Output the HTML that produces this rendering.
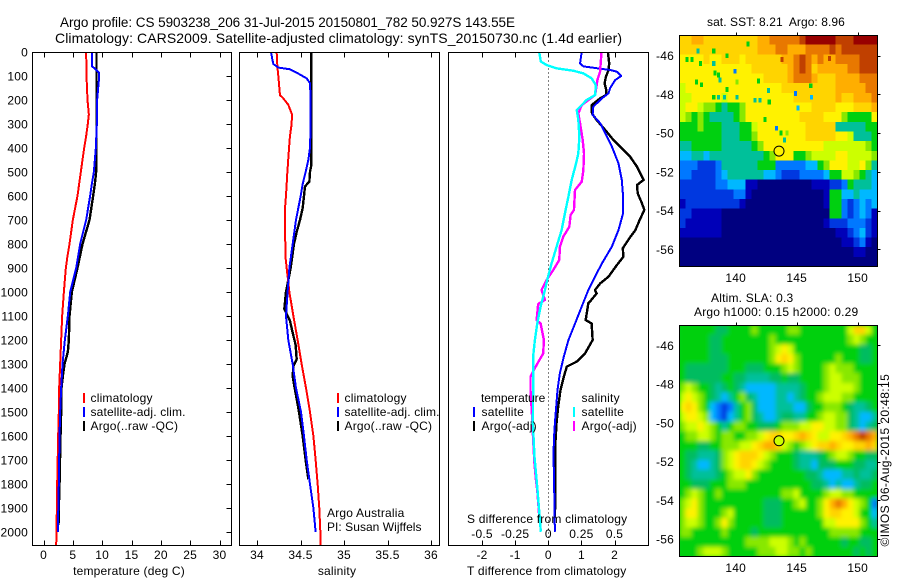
<!DOCTYPE html>
<html lang="en">
<head>
<meta charset="utf-8">
<title>Argo profile</title>
<style>
html,body{margin:0;padding:0;background:#fff;}
#chart{display:block;width:900px;height:580px;}
text{font-family:"Liberation Sans",sans-serif;font-size:12px;fill:#000;letter-spacing:0.2px;white-space:pre;}
</style>
</head>
<body>
<svg id="chart" xmlns="http://www.w3.org/2000/svg" width="900" height="580" viewBox="0 0 900 580">
<defs>
<clipPath id="clip-sst"><rect x="679.5" y="35" width="198" height="232"/></clipPath>
<clipPath id="clip-sla"><rect x="679.5" y="325" width="198" height="232"/></clipPath>
<filter id="smooth" x="-5%" y="-5%" width="110%" height="110%"><feGaussianBlur stdDeviation="2"/></filter>
</defs>
<rect width="900" height="580" fill="#fff"/>
<text x="60" y="27" style="font-size:13.5px;letter-spacing:0" textLength="455" lengthAdjust="spacing">Argo profile: CS 5903238_206 31-Jul-2015 20150801_782 50.927S 143.55E</text>
<text x="55" y="43" style="font-size:14px;letter-spacing:0" textLength="567" lengthAdjust="spacing">Climatology: CARS2009. Satellite-adjusted climatology: synTS_20150730.nc (1.4d earlier)</text>
<g id="layer-sst"></g>
<g id="layer-sla"></g>
<g id="layer-plots"></g>

<g>
<rect x="83" y="393" width="2" height="10" fill="#f00"/>
<rect x="83" y="407" width="2" height="10" fill="#00f"/>
<rect x="83" y="421" width="2" height="10" fill="#000"/>
<text x="90.5" y="402">climatology</text>
<text x="90.5" y="416" textLength="95.2" lengthAdjust="spacing">satellite-adj. clim.</text>
<text x="90.5" y="430">Argo(..raw -QC)</text>
</g>
<g>
<rect x="337" y="393" width="2" height="10" fill="#f00"/>
<rect x="337" y="407" width="2" height="10" fill="#00f"/>
<rect x="337" y="421" width="2" height="10" fill="#000"/>
<text x="344.5" y="402">climatology</text>
<text x="344.5" y="416" textLength="95.2" lengthAdjust="spacing">satellite-adj. clim.</text>
<text x="344.5" y="430">Argo(..raw -QC)</text>
<text x="327" y="517">Argo Australia</text>
<text x="327" y="531" textLength="94.7" lengthAdjust="spacing">PI: Susan Wijffels</text>
</g>
<g>
<text x="481" y="402" textLength="64.5" lengthAdjust="spacing">temperature</text>
<rect x="473" y="407" width="2" height="10" fill="#00f"/>
<rect x="473" y="421" width="2" height="10" fill="#000"/>
<text x="481.5" y="416">satellite</text>
<text x="481.5" y="430">Argo(-adj)</text>
<text x="581.5" y="402">salinity</text>
<rect x="573" y="407" width="2" height="10" fill="#0ff"/>
<rect x="573" y="421" width="2" height="10" fill="#f0f"/>
<text x="581.5" y="416">satellite</text>
<text x="581.5" y="430">Argo(-adj)</text>
</g>
<text x="707" y="26" textLength="138" lengthAdjust="spacing">sat. SST: 8.21  Argo: 8.96</text>
<text x="711" y="302">Altim. SLA: 0.3</text>
<text x="694" y="316">Argo h1000: 0.15 h2000: 0.29</text>
<text transform="translate(889 546.5) rotate(-90)" textLength="172.5" lengthAdjust="spacing">©IMOS 06-Aug-2015 20:48:15</text>
</svg>
<script>
/* ---------- profile data (depth in dbar, values in axis units) ---------- */
const depthTicks = [0,100,200,300,400,500,600,700,800,900,1000,1100,1200,1300,1400,1500,1600,1700,1800,1900,2000];
const tempTicks = [0,5,10,15,20,25,30];
const salTicks = [34,34.5,35,35.5,36];
const salTickLabels = ['34','34.5','35','35.5','36'];
const tDiffTicks = [-2,-1,0,1,2];
const sDiffTicks = [-0.5,-0.25,0,0.25,0.5];
const sDiffTickLabels = ['-0.5','-0.25','0','0.25','0.5'];

const tempClimDepth = [0,100,200,260,300,350,400,500,600,700,800,850,900,1000,1100,1200,1300,1400,1500,1600,1800,2000,2055];
const tempClimValue = [7.27,7.33,7.50,7.73,7.55,7.27,6.93,6.36,5.79,5.00,4.43,4.09,3.81,3.47,3.18,3.01,2.84,2.67,2.61,2.50,2.33,2.22,2.16];
const tempSatDepth = [0,60,70,85,120,200,300,400,500,550,600,700,800,900,1000,1100,1200,1300,1400,1500,1600,1800,2000];
const tempSatValue = [8.24,8.29,8.80,9.43,9.43,9.14,9.09,8.92,8.58,8.24,7.95,7.27,6.25,5.57,4.55,4.15,3.64,3.24,3.01,2.84,2.73,2.61,2.44];
const tempArgoDepth = [0,100,200,300,400,500,540,600,700,800,900,1000,1100,1200,1250,1300,1350,1400,1500,1600,1800,1900,1970];
const tempArgoValue = [9.03,9.03,9.09,9.03,9.03,8.97,8.80,8.46,7.84,6.65,5.79,4.83,4.43,4.32,4.15,3.58,3.30,3.07,3.01,2.90,2.73,2.61,2.56];

const salClimDepth = [0,60,100,180,190,220,260,300,350,400,500,600,650,850,900,1000,1100,1200,1300,1400,1500,1600,1700,1800,1900,2000,2055];
const salClimValue = [34.226,34.234,34.245,34.264,34.295,34.36,34.402,34.398,34.379,34.368,34.349,34.333,34.322,34.326,34.341,34.372,34.418,34.467,34.513,34.563,34.609,34.648,34.674,34.697,34.716,34.728,34.732];
const salSatDepth = [0,30,50,65,72,90,110,130,200,300,400,450,500,550,600,700,800,900,1000,1100,1200,1300,1400,1500,1600,1700,1800,1900,2000];
const salSatValue = [34.161,34.176,34.188,34.245,34.379,34.475,34.571,34.609,34.617,34.617,34.609,34.59,34.559,34.525,34.502,34.448,34.41,34.372,34.352,34.333,34.36,34.41,34.448,34.506,34.54,34.571,34.609,34.648,34.674];
const salArgoDepth = [0,470,500,540,560,600,650,700,750,800,900,1000,1070,1120,1170,1220,1280,1310,1350,1400,1500,1600,1700,1780];
const salArgoValue = [34.625,34.625,34.609,34.602,34.552,34.54,34.525,34.494,34.456,34.425,34.387,34.333,34.314,34.379,34.41,34.444,34.456,34.418,34.41,34.433,34.483,34.525,34.559,34.59];

const tDiffSatDepth = [0,47,60,75,82,100,117,150,172,193,228,262,297,339,394,464,533,603,672,742,811,881,950,992,1061,1131,1200,1269,1339,1408,1478,1547,1617,1686,1825,1999];
const tDiffSatValue = [1.01,0.96,1.06,1.87,2.07,2.20,2.02,1.87,1.82,1.62,1.36,1.34,1.57,1.72,1.92,2.12,2.22,2.26,2.26,2.12,1.92,1.62,1.36,1.21,1.01,0.81,0.61,0.47,0.35,0.28,0.24,0.20,0.17,0.16,0.18,0.20];
const tDiffArgoDepth = [0,47,75,103,131,158,179,193,221,256,283,325,367,401,436,478,533,554,589,631,658,700,742,776,818,853,888,936,964,992,1006,1040,1047,1117,1131,1200,1256,1290,1311,1353,1408,1478,1547,1617,1686,1825,1936];
const tDiffArgoValue = [1.80,1.84,1.82,1.74,1.70,1.75,1.75,1.57,1.31,1.32,1.46,1.72,1.97,2.22,2.47,2.68,2.88,2.68,2.70,2.83,2.90,2.76,2.63,2.45,2.25,2.27,2.07,1.82,1.57,1.41,1.46,1.26,1.21,1.13,1.31,1.34,1.11,0.86,0.56,0.47,0.37,0.30,0.25,0.22,0.22,0.22,0.20];
const sDiffSatDepth = [0,40,54,68,78,89,110,138,179,200,242,283,353,422,464,533,603,672,742,811,881,950,992,1061,1131,1200,1269,1408,1547,1686,1825,1999];
const sDiffSatValue = [-0.068,-0.056,-0.013,0.063,0.189,0.265,0.328,0.359,0.354,0.29,0.215,0.227,0.235,0.227,0.21,0.177,0.152,0.126,0.101,0.063,0.025,-0.008,-0.025,-0.058,-0.083,-0.101,-0.114,-0.114,-0.116,-0.104,-0.081,-0.056];
const sDiffArgoDepth = [0,82,117,179,221,256,297,367,422,492,540,575,658,679,728,769,811,867,908,950,992,1033,1050,1117,1131,1200,1256,1304,1353,1408,1547,1617,1714,1783,1825,1936];
const sDiffArgoValue = [0.402,0.391,0.371,0.354,0.253,0.227,0.24,0.26,0.27,0.265,0.253,0.202,0.194,0.169,0.159,0.114,0.088,0.083,0.038,-0.013,-0.051,-0.025,-0.076,-0.088,-0.058,-0.033,-0.038,-0.088,-0.134,-0.134,-0.119,-0.114,-0.104,-0.093,-0.083,-0.068];

/* ---------- map data: each letter is a colour level, rows run north to south ---------- */
const lonTicks = [140,145,150];
const latTicks = [-46,-48,-50,-52,-54,-56];
const sstLevels = [
"kkllkkkkkkkkkllmmmmmnooooonnnoooo",
"kkkkkkkkkkkkklllmmlllmmmmnmnnnnnn",
"jjjjkjjkkkjkkkkkkllmnmlmllmmmmnnn",
"jjjjjjjjjjjjkkkkkklmnmklllllmmnnn",
"jjjjjjjjjjjjjjkkkklmmmlkkkllllmmm",
"ijjjjjjjjjjjjjjjjkkkkkkkkklllllmm",
"iijjjjjijjjjjjjjjjjkkkkkkklkklllm",
"ijjihhgfgghjjjjjjjjjjjkkkkjjjkkkl",
"ihghgffffghjjjjjjjjjkkkkjjjhggggj",
"ggghgggfffggijjjjjjjjkkkkkfffffgg",
"gggggggfffgghjjjjjjjjkkkkkjjifffg",
"ffgggggfffffghjjjjjjjjjjiiiiiiihg",
"eeffefffffffffghjjjgghiiiijjiiiih",
"dddcccdffffffgggdddddeeghjjjiijhf",
"ddccccdeffffffeedcccddddeggiihgfe",
"ccccccddeeebbaaaaaaaaabbbccdgfffe",
"cccccccccddbaaaaaaaaaaaabggeefeee",
"bcccccccccbaaaaaaaaaaaaabggdcdede",
"ccbbbbbaaaaaaaaaaaaaaaaaaggdcdedb",
"cbbbbbbaaaaaaaaaaaaaaaaabcccdddcb",
"bbbbbbbaaaaaaaaaaaaaaaaaaabbcdecb",
"aaaaaaaaaaaaaaaaaaaaaaaaaaabbcdba",
"aaaaaaaaaaaaaaaaaaaaaaaaaaaaabbaa",
"aaaaaaaaaaaaaaaaaaaaaaaaaaaaaaaaa"
];
const sstSpeckLon = [141,136.9,138.2,139.3,136,136.4,137.1,138.2,139.95,138.3,138.6,137.2,136.8,138.7,141.85,140.1,139.3,142.7,144.9,139.1,138.6,140.1,141.6,142,142.75,146.2,145.1,138.2,142.4,143.35,144.2,143.7,144,146.15,143.8,147.7];
const sstSpeckLat = [-45.4,-45.75,-45.75,-46,-46.2,-46.2,-46.4,-46.4,-46.8,-46.9,-47,-47.5,-47.35,-47.25,-47.3,-47.35,-47.75,-47.8,-47.95,-48.15,-48.15,-48.15,-48.3,-48.3,-48.4,-48.15,-48.7,-48.15,-49.3,-49.75,-50,-50,-50.35,-47.55,-46.2,-46.15];
const sstSpeckLevel = "gfgggggfdggggfghgfdfffffgeeggdhgfgnn";
const slaLevels = [
"ggggggppgggghggggghhggggggggikkig",
"gggggppgggggggghgggggggggggghihgg",
"gggggppgggggggghijigggggggggggppg",
"gggggpppggggggghjkjhgggggghgggppg",
"gpppppppgggpppggghihgggghihhhgggg",
"gppppppggppffffppgppgggghiihhhggg",
"hihggpfpgpfeeeeeffffpggghiiiihggg",
"ijihgpfefghpfeeeffefpgghiiihhgggg",
"jkjhgedcdfghpeeefffeepgghhhgpffpg",
"ijjihedcefghpfeefppffgghiihhpfeef",
"hiijihgfghhggpppghhhiijjiihhpfefp",
"ghhiihghhgghhijkkjjklkjiijjklmnml",
"gggppgghhhiijkllkihghijkklkjjkklk",
"gppfffphijkkkjihgggpfffpghiihggpp",
"gpfeefphijkkjihggggpffepppgggppff",
"gpffffpghiijhggggggggppfeeeffpffp",
"ggpppggghhhgggggggggggppfefeefppg",
"ghihgghgggggggggghhigggghiihhgggg",
"hijhggggggggggpppgghigghjlmljihgd",
"hjjhggghigggggpppgggggghjkkjjigge",
"hiihgghjhgggggpppgggggggiijjjjhgf",
"hhggggghggggpgggggggggggghhhhhggg",
"ggggggggggghhhhiiihghggggggpggppg",
"ggghiiihggggghhhiihhghgggggggpgpg"
];
const argoLon = 143.55;
const argoLat = -50.927;

/* ---------- appearance ---------- */
const levelColors = {a:'#000080',b:'#0000b8',c:'#0038e0',d:'#0078ff',e:'#00b8ff',f:'#00c09a',p:'#00bc60',g:'#00d010',h:'#88e800',i:'#ccff00',j:'#fff200',k:'#ffd400',l:'#ffae00',m:'#e87800',n:'#c04000',o:'#980000'};
const SVGNS = 'http://www.w3.org/2000/svg';
function mk(parent, tag, attrs, name){
  const el = document.createElementNS(SVGNS, tag);
  for (const k in attrs) el.setAttribute(k, attrs[k]);
  
  
  parent.appendChild(el);
  return el;
}
function linear(d0, d1, r0, r1){ return v => r0 + (v - d0) * (r1 - r0) / (d1 - d0); }

/* ---------- profile axes ---------- */
const plots = document.getElementById('layer-plots');
const plotTop = 52.5, plotBottom = 545.5;
const depthY = linear(0, 2000, 52, 532);
const tempX = linear(0, 30, 43.5, 219.5);
const salX = linear(34, 36, 257, 431);
const tDiffX = linear(-2, 2, 482, 614.5);
const sDiffX = linear(-0.5, 0.5, 482, 614.5);

function frame(parent, x0, x1, name){
  mk(parent, 'rect', {x:x0, y:plotTop, width:x1-x0, height:plotBottom-plotTop, fill:'none', stroke:'#000', 'stroke-width':1, 'shape-rendering':'crispEdges'}, name + '-frame');
}
function xTick(parent, x, y0, y1, name){
  mk(parent, 'line', {x1:x, x2:x, y1:y0, y2:y1, stroke:'#000', 'stroke-width':1, 'shape-rendering':'crispEdges'}, name);
}
function label(parent, x, y, str, anchor, name){
  const t = mk(parent, 'text', {x:x, y:y, 'text-anchor':anchor}, name);
  t.textContent = str;
  return t;
}
function series(parent, xFn, depths, values, color, width, name){
  const pts = depths.map((d, i) => xFn(values[i]).toFixed(2) + ',' + depthY(d).toFixed(2)).join(' ');
  mk(parent, 'polyline', {points:pts, fill:'none', stroke:color, 'stroke-width':width, 'stroke-linejoin':'round', 'shape-rendering':'crispEdges'}, name);
}

/* temperature panel */
const tempPanel = mk(plots, 'g', {}, 'temperature-panel');
depthTicks.forEach(d => {
  const y = Math.round(depthY(d)) + 0.5;
  mk(tempPanel, 'line', {x1:226.5, x2:231.5, y1:y, y2:y, stroke:'#000', 'stroke-width':1, 'shape-rendering':'crispEdges'}, 'depth-tick');
  label(tempPanel, 28, depthY(d) + 4.5, String(d), 'end', 'depth-tick-label');
});
tempTicks.forEach(v => {
  const x = Math.round(tempX(v)) + 0.5;
  xTick(tempPanel, x, plotTop, plotTop + 5, 'temperature-top-tick');
  xTick(tempPanel, x, plotBottom - 5, plotBottom, 'temperature-bottom-tick');
  label(tempPanel, tempX(v), 559, String(v), 'middle', 'temperature-tick-label');
});
series(tempPanel, tempX, tempArgoDepth, tempArgoValue, '#000', 2.4, 'temperature-argo-line');
series(tempPanel, tempX, tempClimDepth, tempClimValue, '#f00', 2, 'temperature-climatology-line');
series(tempPanel, tempX, tempSatDepth, tempSatValue, '#00f', 2, 'temperature-satellite-line');
frame(tempPanel, 32.5, 231.5, 'temperature-panel');
label(tempPanel, 129, 575, 'temperature (deg C)', 'middle', 'temperature-axis-title');

/* salinity panel */
const salPanel = mk(plots, 'g', {}, 'salinity-panel');
salTicks.forEach((v, i) => {
  const x = Math.round(salX(v)) + 0.5;
  xTick(salPanel, x, plotTop, plotTop + 5, 'salinity-top-tick');
  xTick(salPanel, x, plotBottom - 5, plotBottom, 'salinity-bottom-tick');
  label(salPanel, salX(v), 559, salTickLabels[i], 'middle', 'salinity-tick-label');
});
series(salPanel, salX, salArgoDepth, salArgoValue, '#000', 2.4, 'salinity-argo-line');
series(salPanel, salX, salClimDepth, salClimValue, '#f00', 2, 'salinity-climatology-line');
series(salPanel, salX, salSatDepth, salSatValue, '#00f', 2, 'salinity-satellite-line');
frame(salPanel, 239.5, 439.5, 'salinity-panel');
label(salPanel, 337, 575, 'salinity', 'middle', 'salinity-axis-title');

/* difference panel */
const diffPanel = mk(plots, 'g', {}, 'difference-panel');
mk(diffPanel, 'line', {x1:548.5, x2:548.5, y1:plotTop, y2:plotBottom, stroke:'#000', 'stroke-width':1, 'stroke-dasharray':'1 3', 'shape-rendering':'crispEdges'}, 'zero-difference-line');
tDiffTicks.forEach(v => {
  const x = Math.round(tDiffX(v)) + 0.5;
  xTick(diffPanel, x, plotTop, plotTop + 5, 'difference-top-tick');
  xTick(diffPanel, x, plotBottom - 5, plotBottom, 'difference-bottom-tick');
  label(diffPanel, tDiffX(v), 559, String(v), 'middle', 't-difference-tick-label');
});
sDiffTicks.forEach((v, i) => {
  label(diffPanel, sDiffX(v), 538, sDiffTickLabels[i], 'middle', 's-difference-tick-label');
});
series(diffPanel, tDiffX, tDiffArgoDepth, tDiffArgoValue, '#000', 2.4, 't-difference-argo-line');
series(diffPanel, tDiffX, tDiffSatDepth, tDiffSatValue, '#00f', 2, 't-difference-satellite-line');
series(diffPanel, sDiffX, sDiffArgoDepth, sDiffArgoValue, '#f0f', 2.4, 's-difference-argo-line');
series(diffPanel, sDiffX, sDiffSatDepth, sDiffSatValue, '#0ff', 2.4, 's-difference-satellite-line');
frame(diffPanel, 448.5, 648.5, 'difference-panel');
label(diffPanel, 467, 523, 'S difference from climatology', 'start', 's-difference-axis-title');
label(diffPanel, 467, 575, 'T difference from climatology', 'start', 't-difference-axis-title');

/* ---------- maps ---------- */
const lonX = linear(140, 150, 735.7, 857.7);
const lonMin = 135.38, lonMax = 151.64;

function drawMap(layer, clipId, rows, topPx, bottomPx, latAnchorPx, tickLabelY, cellName, smooth, markerFill, specks){
  const latY = linear(-46, -56, latAnchorPx, latAnchorPx + 193.6);
  const latMax = -46 + (latAnchorPx - topPx) / 19.36;
  const latMin = -46 - (bottomPx - latAnchorPx) / 19.36;
  const clip = mk(layer, 'g', {'clip-path':'url(#' + clipId + ')'}, cellName + '-clip-area');
  mk(clip, 'rect', {x:lonX(lonMin), y:topPx, width:lonX(lonMax)-lonX(lonMin), height:bottomPx-topPx, fill:levelColors.g}, cellName + '-base');
  const holder = mk(clip, 'g', smooth ? {filter:'url(#smooth)'} : {}, cellName + '-grid');
  const dLat = (latMax - latMin) / rows.length;
  rows.forEach((row, r) => {
    const dLon = (lonMax - lonMin) / row.length;
    for (let c = 0; c < row.length; c++) {
      const x0 = lonX(lonMin + c * dLon), x1 = lonX(lonMin + (c + 1) * dLon);
      const y0 = latY(latMax - r * dLat), y1 = latY(latMax - (r + 1) * dLat);
      mk(holder, 'rect', {x:x0.toFixed(2), y:y0.toFixed(2), width:(x1-x0+0.4).toFixed(2), height:(y1-y0+0.4).toFixed(2), fill:levelColors[row[c]], 'shape-rendering':'crispEdges'}, cellName);
    }
  });
  if (specks) {
    specks.lon.forEach((lon, i) => {
      const x0 = lonX(lon - 0.125), y0 = latY(specks.lat[i] + 0.125);
      mk(holder, 'rect', {x:x0.toFixed(2), y:y0.toFixed(2), width:(lonX(lon+0.125)-x0).toFixed(2), height:(latY(specks.lat[i]-0.125)-y0).toFixed(2), fill:levelColors[specks.level[i]], 'shape-rendering':'crispEdges'}, cellName + '-speck');
    });
  }
  mk(layer, 'rect', {x:679.5, y:topPx+0.5, width:198, height:bottomPx-topPx-0.5, fill:'none', stroke:'#000', 'stroke-width':1, 'shape-rendering':'crispEdges'}, cellName + '-map-frame');
  lonTicks.forEach(v => {
    const x = Math.round(lonX(v)) + 0.5;
    mk(layer, 'line', {x1:x, x2:x, y1:topPx-2.5, y2:topPx+0.5, stroke:'#000', 'stroke-width':1, 'shape-rendering':'crispEdges'}, 'longitude-tick');
    label(layer, lonX(v), tickLabelY, String(v), 'middle', 'longitude-tick-label');
  });
  latTicks.forEach(v => {
    const y = Math.round(latY(v)) + 0.5;
    mk(layer, 'line', {x1:877.5, x2:880.5, y1:y, y2:y, stroke:'#000', 'stroke-width':1, 'shape-rendering':'crispEdges'}, 'latitude-tick');
    label(layer, 674, latY(v) + 4.5, String(v), 'end', 'latitude-tick-label');
  });
  mk(layer, 'circle', {cx:lonX(argoLon), cy:latY(argoLat), r:5, fill:markerFill, stroke:'#000', 'stroke-width':1}, 'argo-position-marker');
}
drawMap(document.getElementById('layer-sst'), 'clip-sst', sstLevels, 35, 266.5, 55.7, 282, 'sst-cell', false, '#fff200', {lon:sstSpeckLon, lat:sstSpeckLat, level:sstSpeckLevel});
drawMap(document.getElementById('layer-sla'), 'clip-sla', slaLevels, 325, 556.5, 345.4, 572, 'sla-cell', true, '#ccff00', null);
</script>
</body>
</html>
